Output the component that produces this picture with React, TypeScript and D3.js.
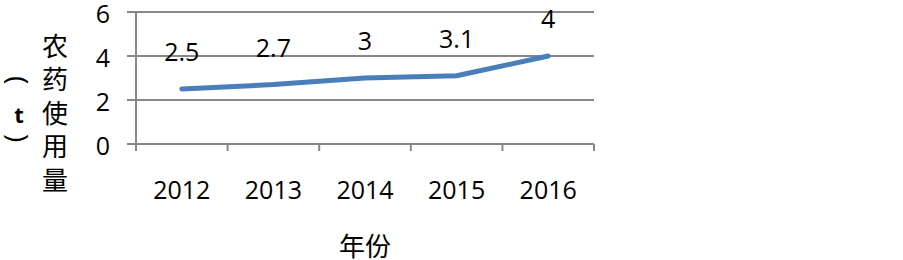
import * as d3 from 'd3'
import React from 'react'

const years = ['2012', '2013', '2014', '2015', '2016']
const usage = [2.5, 2.7, 3, 3.1, 4]
const yTicks = [0, 2, 4, 6]
const yTitle = ['农', '药', '使', '用', '量']
const unit = ['(', 't', ')']
const xTitle = '年份'

const W = 903, H = 260
const num = '"Open Sans", "Liberation Sans", sans-serif'
const cjk = '"Noto Sans CJK SC", sans-serif'
const grid = '#878787'

export default function App() {
  const
    x = d3.scaleBand().domain(years).range([136, 594]),
    y = d3.scaleLinear().domain([0, 6]).range([144, 12]),
    line = d3.line<number>()
      .x((_, i) => x(years[i])! + x.bandwidth() / 2)
      .y(d => y(d)),
    edges = [...years.map(d => x(d)!), 594]

  return (
    <svg width={W} height={H} style={{ position: 'absolute', left: 0, top: 0 }}>
      <rect width={W} height={H} fill='#fff' />
      {yTicks.map(t => (
        <g key={t}>
          <line x1={127} x2={594} y1={y(t)} y2={y(t)} stroke={grid} strokeWidth={2} />
          <text x={110} y={y(t) + 1} textAnchor='end' dominantBaseline='central'
            fontFamily={num} fontSize={25} fill='#000'>{t}</text>
        </g>
      ))}
      <line x1={136} x2={136} y1={12} y2={151} stroke={grid} strokeWidth={2} />
      {edges.map((e, i) => (
        <line key={i} x1={e} x2={e} y1={144} y2={151} stroke={grid} strokeWidth={2} />
      ))}
      <path d={line(usage)!} fill='none' stroke='#4a7ebb' strokeWidth={5} strokeLinecap='round' strokeLinejoin='round' />
      {usage.map((v, i) => (
        <text key={i} x={x(years[i])! + x.bandwidth() / 2} y={y(v) - 28} textAnchor='middle'
          fontFamily={num} fontSize={25} fill='#000'>{v}</text>
      ))}
      {years.map(d => (
        <text key={d} x={x(d)! + x.bandwidth() / 2} y={189} textAnchor='middle' dominantBaseline='central'
          fontFamily={num} fontSize={25} fill='#000'>{d}</text>
      ))}
      {yTitle.map((c, i) => (
        <text key={c} x={55} y={44 + i * 33.5} textAnchor='middle' dominantBaseline='central'
          fontFamily={cjk} fontSize={26} fill='#000'>{c}</text>
      ))}
      {/* unit column: parens turned sideways like vertical text */}
      <g transform='translate(19,80)'>
        <g transform='rotate(90)'>
          <text x={0} y={0} textAnchor='middle' dominantBaseline='central'
            fontFamily={num} fontSize={28} fill='#000'>{unit[0]}</text>
        </g>
      </g>
      <text x={19} y={114} textAnchor='middle' dominantBaseline='central'
        fontFamily={num} fontWeight='bold' fontSize={22} fill='#000'>{unit[1]}</text>
      <g transform='translate(19,138)'>
        <g transform='rotate(90)'>
          <text x={0} y={0} textAnchor='middle' dominantBaseline='central'
            fontFamily={num} fontSize={28} fill='#000'>{unit[2]}</text>
        </g>
      </g>
      <text x={365} y={244} textAnchor='middle' dominantBaseline='central'
        fontFamily={cjk} fontSize={26} fill='#000'>{xTitle}</text>
    </svg>
  )
}
